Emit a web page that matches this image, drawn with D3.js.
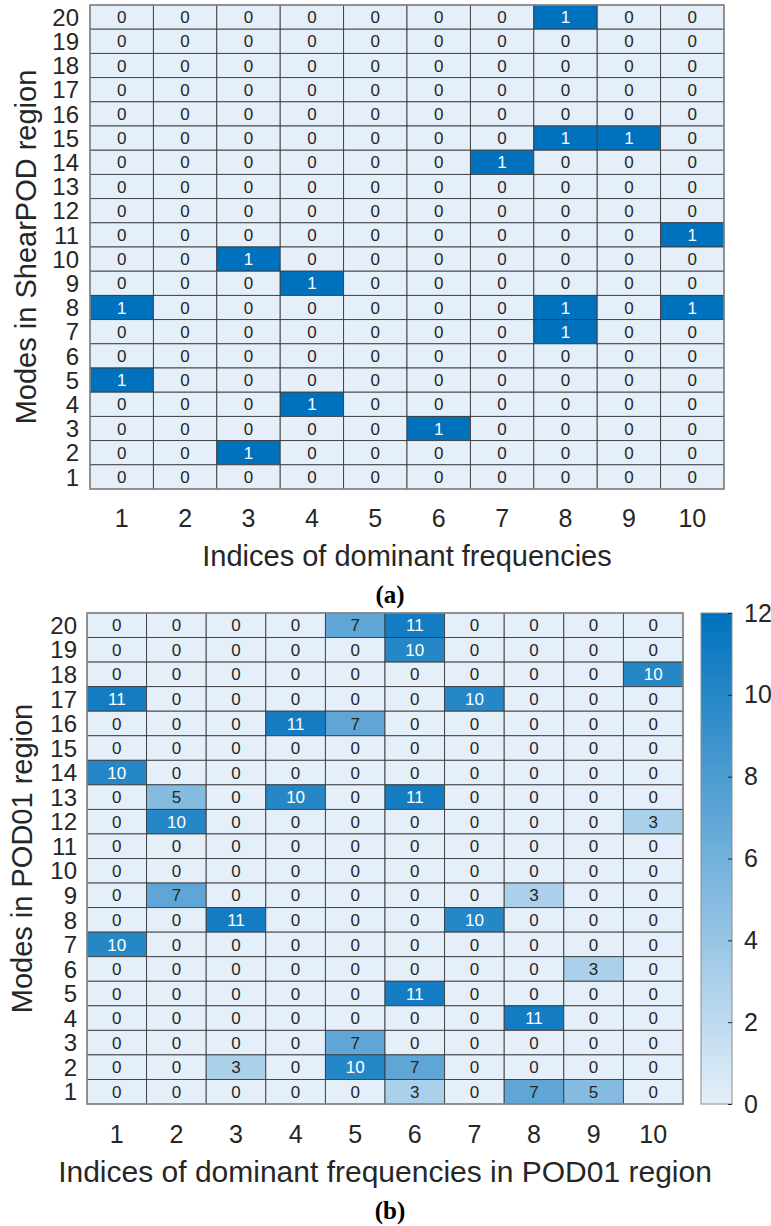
<!DOCTYPE html>
<html>
<head>
<meta charset="utf-8">
<script src="https://cdn.jsdelivr.net/npm/d3@7"></script>
<style>
  html, body { margin: 0; padding: 0; background: #fff; }
  svg { display: block; }
  text { font-family: "Liberation Sans", Arial, Helvetica, sans-serif; fill: #262626; }
  .panel-tag { font-family: "Liberation Serif", "Times New Roman", serif; font-weight: bold; fill: #000; }
</style>
</head>
<body>
<svg id="fig" width="771" height="1226"></svg>
<script>
// Row labels (mode numbers) listed top to bottom, column labels (frequency indices)
const modes = [20, 19, 18, 17, 16, 15, 14, 13, 12, 11, 10, 9, 8, 7, 6, 5, 4, 3, 2, 1];
const freqIndices = [1, 2, 3, 4, 5, 6, 7, 8, 9, 10];

// (a) ShearPOD region: one row per mode, 20 -> 1
const shearPodCounts = [
  [0, 0, 0, 0, 0, 0, 0, 1, 0, 0],
  [0, 0, 0, 0, 0, 0, 0, 0, 0, 0],
  [0, 0, 0, 0, 0, 0, 0, 0, 0, 0],
  [0, 0, 0, 0, 0, 0, 0, 0, 0, 0],
  [0, 0, 0, 0, 0, 0, 0, 0, 0, 0],
  [0, 0, 0, 0, 0, 0, 0, 1, 1, 0],
  [0, 0, 0, 0, 0, 0, 1, 0, 0, 0],
  [0, 0, 0, 0, 0, 0, 0, 0, 0, 0],
  [0, 0, 0, 0, 0, 0, 0, 0, 0, 0],
  [0, 0, 0, 0, 0, 0, 0, 0, 0, 1],
  [0, 0, 1, 0, 0, 0, 0, 0, 0, 0],
  [0, 0, 0, 1, 0, 0, 0, 0, 0, 0],
  [1, 0, 0, 0, 0, 0, 0, 1, 0, 1],
  [0, 0, 0, 0, 0, 0, 0, 1, 0, 0],
  [0, 0, 0, 0, 0, 0, 0, 0, 0, 0],
  [1, 0, 0, 0, 0, 0, 0, 0, 0, 0],
  [0, 0, 0, 1, 0, 0, 0, 0, 0, 0],
  [0, 0, 0, 0, 0, 1, 0, 0, 0, 0],
  [0, 0, 1, 0, 0, 0, 0, 0, 0, 0],
  [0, 0, 0, 0, 0, 0, 0, 0, 0, 0]
];

// (b) POD01 region: one row per mode, 20 -> 1
const pod01Counts = [
  [0, 0, 0, 0, 7, 11, 0, 0, 0, 0],
  [0, 0, 0, 0, 0, 10, 0, 0, 0, 0],
  [0, 0, 0, 0, 0, 0, 0, 0, 0, 10],
  [11, 0, 0, 0, 0, 0, 10, 0, 0, 0],
  [0, 0, 0, 11, 7, 0, 0, 0, 0, 0],
  [0, 0, 0, 0, 0, 0, 0, 0, 0, 0],
  [10, 0, 0, 0, 0, 0, 0, 0, 0, 0],
  [0, 5, 0, 10, 0, 11, 0, 0, 0, 0],
  [0, 10, 0, 0, 0, 0, 0, 0, 0, 3],
  [0, 0, 0, 0, 0, 0, 0, 0, 0, 0],
  [0, 0, 0, 0, 0, 0, 0, 0, 0, 0],
  [0, 7, 0, 0, 0, 0, 0, 3, 0, 0],
  [0, 0, 11, 0, 0, 0, 10, 0, 0, 0],
  [10, 0, 0, 0, 0, 0, 0, 0, 0, 0],
  [0, 0, 0, 0, 0, 0, 0, 0, 3, 0],
  [0, 0, 0, 0, 0, 11, 0, 0, 0, 0],
  [0, 0, 0, 0, 0, 0, 0, 11, 0, 0],
  [0, 0, 0, 0, 7, 0, 0, 0, 0, 0],
  [0, 0, 3, 0, 10, 7, 0, 0, 0, 0],
  [0, 0, 0, 0, 0, 3, 0, 7, 5, 0]
];

const colorbarTicks = [0, 2, 4, 6, 8, 10, 12];

const lowColor = "#e4eff9";
const highColor = "#0072bd";

const svg = d3.select("#fig");

function drawHeatmap(cfg) {
  const { matrix, left, right, top, bottom, domainMax, yTitle, xTitle,
          yTickX, yTitleX, xTickY, xTitleY, tag, tagY, xTitleSize } = cfg;

  const x = d3.scaleBand().domain(freqIndices).range([left, right]).padding(0);
  const y = d3.scaleBand().domain(modes).range([top, bottom]).padding(0);
  const color = d3.scaleLinear().domain([0, domainMax]).range([lowColor, highColor])
    .interpolate(d3.interpolateRgb);

  const cells = [];
  matrix.forEach((row, ri) => row.forEach((v, ci) => {
    cells.push({ mode: modes[ri], freq: freqIndices[ci], value: v });
  }));

  const g = svg.append("g");

  g.selectAll("rect.cell").data(cells).join("rect")
    .attr("class", "cell")
    .attr("x", d => x(d.freq))
    .attr("y", d => y(d.mode))
    .attr("width", x.bandwidth())
    .attr("height", y.bandwidth())
    .attr("fill", d => color(d.value))
    .attr("stroke", "#3c3c3c")
    .attr("stroke-width", 0.9);

  g.selectAll("text.val").data(cells).join("text")
    .attr("class", "val")
    .attr("x", d => x(d.freq) + x.bandwidth() / 2)
    .attr("y", d => y(d.mode) + y.bandwidth() / 2)
    .attr("dy", "0.36em")
    .attr("text-anchor", "middle")
    .attr("font-size", 17)
    .style("font-size", "17px")
    .style("fill", d => d3.lab(color(d.value)).l < 60 ? "#ffffff" : "#262626")
    .text(d => d.value);

  // outer frame
  g.append("rect")
    .attr("x", left).attr("y", top)
    .attr("width", right - left).attr("height", bottom - top)
    .attr("fill", "none")
    .attr("stroke", "#8c8c8c")
    .attr("stroke-width", 1.5);

  // row tick labels
  g.selectAll("text.ytick").data(modes).join("text")
    .attr("class", "ytick")
    .attr("x", yTickX)
    .attr("y", d => y(d) + y.bandwidth() / 2)
    .attr("dy", "0.36em")
    .attr("text-anchor", "end")
    .style("font-size", "24px")
    .text(d => d);

  // column tick labels
  g.selectAll("text.xtick").data(freqIndices).join("text")
    .attr("class", "xtick")
    .attr("x", d => x(d) + x.bandwidth() / 2)
    .attr("y", xTickY)
    .attr("text-anchor", "middle")
    .style("font-size", "25px")
    .text(d => d);

  g.append("text")
    .attr("transform", `translate(${yTitleX},${(top + bottom) / 2}) rotate(-90)`)
    .attr("text-anchor", "middle")
    .attr("dy", "0.36em")
    .style("font-size", "29px")
    .text(yTitle);

  g.append("text")
    .attr("x", (left + right) / 2 + (cfg.xTitleShift || 0))
    .attr("y", xTitleY)
    .attr("text-anchor", "middle")
    .style("font-size", (xTitleSize || 29) + "px")
    .text(xTitle);

  g.append("text")
    .attr("class", "panel-tag")
    .attr("x", 390)
    .attr("y", tagY)
    .attr("text-anchor", "middle")
    .style("font-size", "25px")
    .text(tag);

  return color;
}

// (a)
drawHeatmap({
  matrix: shearPodCounts,
  left: 90, right: 724, top: 5, bottom: 489,
  domainMax: 1,
  yTitle: "Modes in ShearPOD region",
  xTitle: "Indices of dominant frequencies",
  yTickX: 79, yTitleX: 26,
  xTickY: 527, xTitleY: 566,
  tag: "(a)", tagY: 603
});

// (b)
const colorB = drawHeatmap({
  matrix: pod01Counts,
  left: 87, right: 683, top: 613, bottom: 1104,
  domainMax: 12,
  yTitle: "Modes in POD01 region",
  xTitle: "Indices of dominant frequencies in POD01 region",
  xTitleShift: 0, xTitleSize: 30,
  yTickX: 77, yTitleX: 22,
  xTickY: 1143, xTitleY: 1182,
  tag: "(b)", tagY: 1219
});

// colorbar for (b)
const cbLeft = 701, cbRight = 732, cbTop = 613, cbBottom = 1104;
const cbScale = d3.scaleLinear().domain([0, 12]).range([cbBottom, cbTop]);

const defs = svg.append("defs");
const grad = defs.append("linearGradient")
  .attr("id", "cbGrad")
  .attr("x1", 0).attr("y1", 1).attr("x2", 0).attr("y2", 0);
d3.range(0, 12.01, 1).forEach(v => {
  grad.append("stop").attr("offset", v / 12).attr("stop-color", colorB(v));
});

svg.append("rect")
  .attr("x", cbLeft).attr("y", cbTop)
  .attr("width", cbRight - cbLeft).attr("height", cbBottom - cbTop)
  .attr("fill", "url(#cbGrad)")
  .attr("stroke", "#8c8c8c")
  .attr("stroke-width", 1);

const cbAxis = d3.axisRight(cbScale).tickValues(colorbarTicks).tickSize(-4).tickPadding(12);
const cbG = svg.append("g")
  .attr("transform", `translate(${cbRight},0)`)
  .call(cbAxis);
cbG.select(".domain").remove();
cbG.selectAll(".tick line").attr("stroke", "#262626").attr("stroke-width", 1);
cbG.selectAll(".tick text")
  .style("font-size", "25px")
  .style("font-family", "\"Liberation Sans\", Arial, sans-serif")
  .attr("fill", "#262626");
</script>
</body>
</html>
